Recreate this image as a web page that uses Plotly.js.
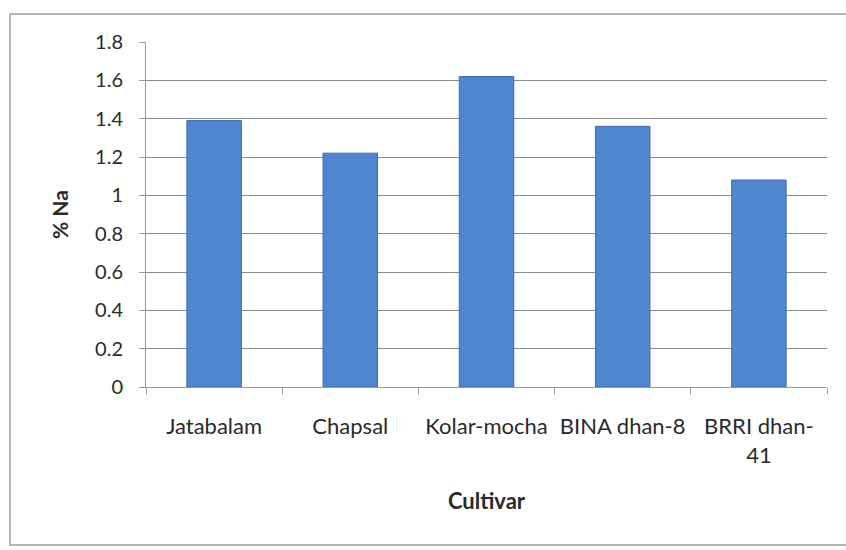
<!DOCTYPE html>
<html>
<head>
<meta charset="utf-8">
<script src="https://cdn.plot.ly/plotly-3.0.1.min.js"></script>
<style>html,body{margin:0;padding:0;background:#fff;}#chart{width:846px;height:550px;}</style>
</head>
<body>
<div id="chart"></div>
<script>
const categories = ["Jatabalam", "Chapsal", "Kolar-mocha", "BINA dhan-8", "BRRI dhan-<br>41"];
const naPercent = [1.39, 1.22, 1.62, 1.36, 1.08];
const yTicks = [0, 0.2, 0.4, 0.6, 0.8, 1, 1.2, 1.4, 1.6, 1.8];
const yTickText = ["0", "0.2", "0.4", "0.6", "0.8", "1", "1.2", "1.4", "1.6", "1.8"];

const fontFam = "Lato, 'Open Sans', 'Liberation Sans', sans-serif";
const txtColor = "#2a2a2a";

const trace = {
  type: "bar",
  x: categories,
  y: naPercent,
  width: 0.4,
  marker: {color: "#5085d0", line: {color: "#3d6bb0", width: 1}},
  hoverinfo: "x+y"
};

const layout = {
  width: 846, height: 550,
  margin: {l: 146, r: 19, t: 42, b: 163},
  paper_bgcolor: "#ffffff",
  plot_bgcolor: "#ffffff",
  showlegend: false,
  font: {family: fontFam, size: 20, color: txtColor},
  xaxis: {
    type: "category",
    showline: true, linecolor: "#9a9a9a", linewidth: 1,
    ticks: "outside", ticklen: 6, tickcolor: "#9a9a9a",
    tickson: "boundaries",
    ticklabelstandoff: 20,
    showgrid: false,
    tickfont: {family: fontFam, size: 22, color: txtColor},
    title: {text: "<b>Cultivar</b>", font: {family: fontFam, size: 22, color: txtColor}, standoff: 26}
  },
  yaxis: {
    range: [0, 1.8],
    tickvals: yTicks, ticktext: yTickText,
    showline: true, linecolor: "#9a9a9a", linewidth: 1,
    ticks: "outside", ticklen: 6, tickcolor: "#9a9a9a",
    ticklabelstandoff: 12,
    showgrid: true, gridcolor: "#8c8c8c", gridwidth: 1,
    zeroline: false,
    tickfont: {family: fontFam, size: 20, color: txtColor},
    title: {text: "<b>% Na</b>", font: {family: fontFam, size: 21, color: txtColor}, standoff: 20}
  },
  shapes: [{
    type: "rect", xref: "paper", yref: "paper",
    x0: -136/681, x1: 1.04, y0: -158/345, y1: 1 + 28/345,
    line: {color: "#b5b5b5", width: 2}, fillcolor: "rgba(0,0,0,0)", layer: "below"
  }],
  bargap: 0.6
};

Plotly.newPlot("chart", [trace], layout, {displayModeBar: false, staticPlot: true});
</script>
</body>
</html>
